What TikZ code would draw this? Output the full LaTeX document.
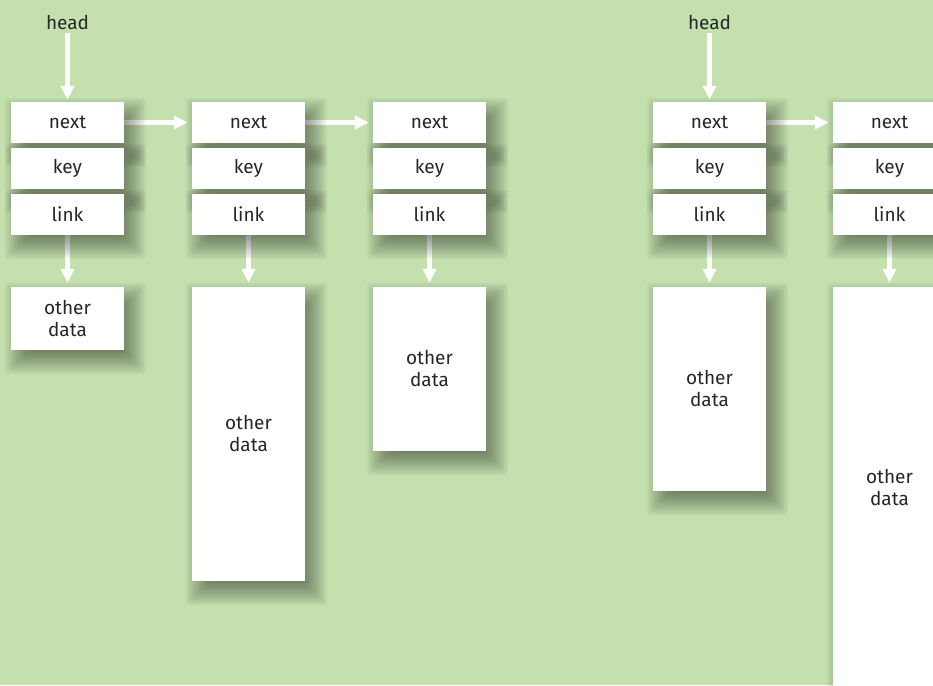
\documentclass[tikz,border=0pt]{standalone}
\usepackage{fontspec}
\setmainfont{Fira Sans}
\usepackage{tikz}
\usetikzlibrary{arrows.meta}
\definecolor{bgGreen}{HTML}{c3e0ae}
\definecolor{txtGray}{HTML}{262626}
\pgfdeclarelayer{bg}
\pgfdeclarelayer{ptrs}
\pgfdeclarelayer{shade}
\pgfsetlayers{bg,ptrs,shade,main}
% soft drop shadow under a named box
\newcommand\boxshadow[1]{%
  \foreach \e in {-14,-12,...,14}
    \fill[black, opacity=0.038, rounded corners=4pt]
      ([shift={(8-\e,10-\e)}]#1.north west) rectangle
      ([shift={(8+\e,10+\e)}]#1.south east);}

\begin{document}
\begin{tikzpicture}[x=1pt, y=-1pt,
    field/.style={fill=white, minimum width=113pt, minimum height=41pt,
      inner sep=0pt, font=\fontsize{19}{22}\selectfont, text=txtGray,
      align=center},
    tag/.style={font=\fontsize{19}{22}\selectfont, text=txtGray},
    ptr/.style={white, line width=5.5pt,
      -{Triangle[width=13pt, length=14pt]}}]
    % Background
    \begin{pgfonlayer}{bg}
      \fill[bgGreen] (0,0) rectangle (933,685);
    \end{pgfonlayer}
    \useasboundingbox (0,0) rectangle (933,685);
    % Records: next / key / link
    \foreach \i/\x in {1/67.5, 2/248.5, 3/429.5, 4/709.5, 5/889.5} {
      \node[field] (next\i) at (\x,122.5) {next};
      \node[field] (key\i)  at (\x,168.5) {key};
      \node[field] (link\i) at (\x,214.5) {link};
    }
    % Other data blocks
    \foreach \i/\x/\y/\h in {1/67.5/318.5/63, 2/248.5/434/294,
        3/429.5/369/164, 4/709.5/389/204, 5/889.5/488/402}
      \node[field, minimum height=\h pt] (data\i) at (\x,\y) {other\\data};
    % Head labels
    \node[tag] (head1) at (67.5,22) {head};
    \node[tag] (head2) at (709.5,22) {head};
    % Shadows
    \begin{pgfonlayer}{shade}
      \foreach \i in {1,...,5} {
        \boxshadow{next\i}
        \boxshadow{key\i}
        \boxshadow{link\i}
        \boxshadow{data\i}
      }
    \end{pgfonlayer}
    % Pointers
    \begin{pgfonlayer}{ptrs}
      \draw[ptr, shorten >=2pt] (head1) -- (next1);
      \draw[ptr, shorten >=2pt] (head2) -- (next4);
      \draw[ptr, shorten >=4pt] (next1) -- (next2);
      \draw[ptr, shorten >=4pt] (next2) -- (next3);
      \draw[ptr, shorten >=4pt] (next4) -- (next5);
      \foreach \i in {1,...,5}
        \draw[ptr, shorten >=4pt] (link\i) -- (data\i);
    \end{pgfonlayer}
\end{tikzpicture}
\end{document}
